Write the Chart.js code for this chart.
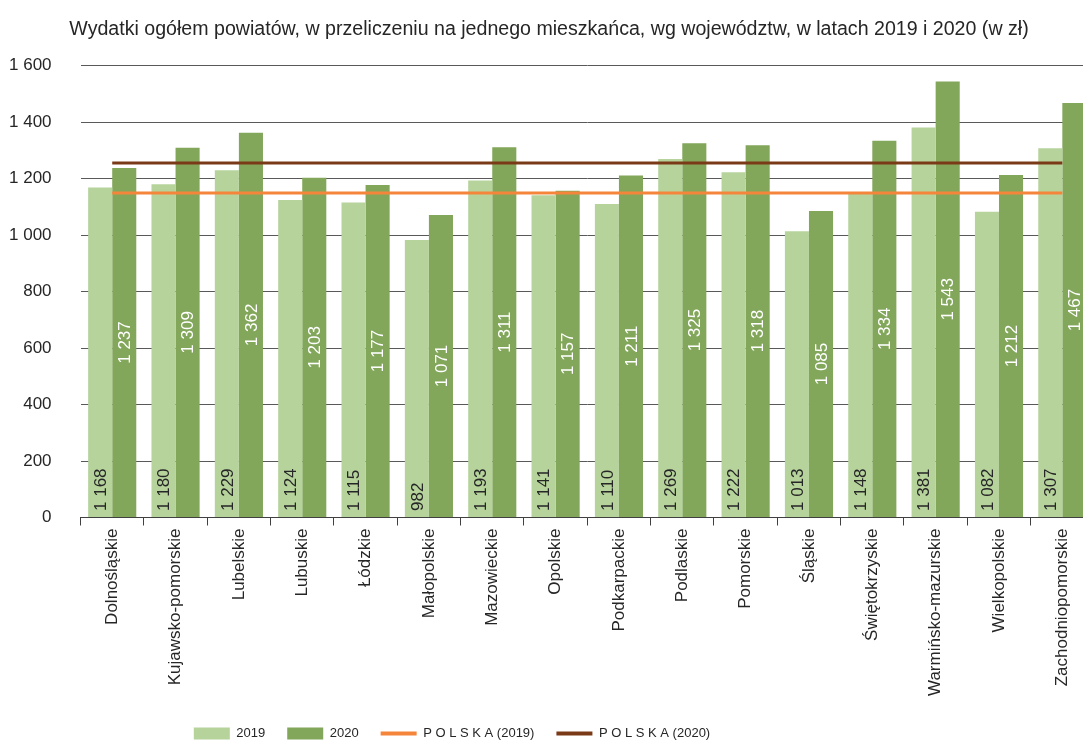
<!DOCTYPE html>
<html>
<head>
<meta charset="utf-8">
<script src="https://cdn.jsdelivr.net/npm/chart.js@4"></script>
<style>
  html, body { margin: 0; padding: 0; background: #fff; overflow: hidden; }
  #wrap { width: 1095px; height: 740px; position: relative; }
</style>
</head>
<body>
<div id="wrap"><canvas id="barChart"></canvas></div>
<script>
var wojewodztwa = ['Dolnośląskie', 'Kujawsko-pomorskie', 'Lubelskie', 'Lubuskie', 'Łódzkie', 'Małopolskie',
    'Mazowieckie', 'Opolskie', 'Podkarpackie', 'Podlaskie', 'Pomorskie', 'Śląskie', 'Świętokrzyskie',
    'Warmińsko-mazurskie', 'Wielkopolskie', 'Zachodniopomorskie'];
var wydatki2019 = [1168, 1180, 1229, 1124, 1115, 982, 1193, 1141, 1110, 1269, 1222, 1013, 1148, 1381, 1082, 1307];
var wydatki2020 = [1237, 1309, 1362, 1203, 1177, 1071, 1311, 1157, 1211, 1325, 1318, 1085, 1334, 1543, 1212, 1467];
var polska2019 = [1149, 1149, 1149, 1149, 1149, 1149, 1149, 1149, 1149, 1149, 1149, 1149, 1149, 1149, 1149, 1149];
var polska2020 = [1255, 1255, 1255, 1255, 1255, 1255, 1255, 1255, 1255, 1255, 1255, 1255, 1255, 1255, 1255, 1255];

var FONT = "'Liberation Sans', Arial, sans-serif";

function fmt(v) {
    return String(v).replace(/\B(?=(\d{3})+(?!\d))/g, ' ');
}

// etykiety wartosci na slupkach
var barLabels = {
    id: 'barLabels',
    afterDatasetsDraw: function (chart) {
        var ctx = chart.ctx;
        [0, 1].forEach(function (di) {
            var meta = chart.getDatasetMeta(di);
            var data = chart.data.datasets[di].data;
            meta.data.forEach(function (bar, i) {
                ctx.save();
                ctx.translate(bar.x, di === 0 ? bar.base - 6 : (bar.y + bar.base) / 2);
                ctx.rotate(-Math.PI / 2);
                ctx.font = '17px ' + FONT;
                ctx.fillStyle = di === 0 ? '#262626' : '#ffffff';
                ctx.textAlign = di === 0 ? 'left' : 'center';
                ctx.textBaseline = 'middle';
                ctx.fillText(fmt(data[i]), 0, 1);
                ctx.restore();
            });
        });
    }
};

// legenda w excelu jest przesunieta w lewo, tytul lekko w prawo
var boxShift = {
    id: 'boxShift',
    afterLayout: function (chart) {
        chart.legend.right -= 170;
        chart.legend.top += 6;
        chart.legend.bottom += 6;
        chart.titleBlock.left += 12;
        chart.titleBlock.right += 12;
    }
};

var ctx = document.getElementById('barChart').getContext('2d');
var myChart = new Chart(ctx, {
    type: 'bar',
    data: {
        labels: wojewodztwa,
        datasets: [{
            label: '2019',
            data: wydatki2019,
            backgroundColor: '#b6d39c',
            order: 1
        }, {
            label: '2020',
            data: wydatki2020,
            backgroundColor: '#82a65a',
            order: 1
        }, {
            type: 'line',
            label: 'P O L S K A (2019)',
            data: polska2019,
            borderColor: '#f5853a',
            backgroundColor: '#f5853a',
            borderWidth: 3,
            pointRadius: 0,
            order: 0
        }, {
            type: 'line',
            label: 'P O L S K A (2020)',
            data: polska2020,
            borderColor: '#7b3a17',
            backgroundColor: '#7b3a17',
            borderWidth: 3,
            pointRadius: 0,
            order: 0
        }]
    },
    options: {
        responsive: true,
        maintainAspectRatio: false,
        animation: false,
        layout: { padding: { left: -20, right: 1, top: 0, bottom: -4 } },
        datasets: {
            bar: { barPercentage: 1, categoryPercentage: 0.76, borderWidth: 0 }
        },
        scales: {
            x: {
                grid: { drawOnChartArea: false, drawTicks: true, tickLength: 8, color: '#404040', offset: true },
                border: { display: true, color: '#404040', width: 1 },
                ticks: { minRotation: 90, maxRotation: 90, autoSkip: false, padding: 3,
                    color: '#262626', font: { family: FONT, size: 17 } }
            },
            y: {
                min: 0,
                max: 1600,
                grid: { color: '#595959', drawTicks: false },
                border: { display: false },
                ticks: { stepSize: 200, padding: 29, color: '#262626', font: { family: FONT, size: 17 },
                    callback: function (v) { return fmt(v); } }
            }
        },
        plugins: {
            tooltip: { enabled: false },
            title: {
                display: true,
                text: 'Wydatki ogółem powiatów, w przeliczeniu na jednego mieszkańca, wg województw, w latach 2019 i 2020 (w zł)',
                color: '#262626',
                font: { family: FONT, size: 19.6, weight: 'normal' },
                padding: { top: 18, bottom: 24 }
            },
            legend: {
                position: 'bottom',
                labels: {
                    usePointStyle: true,
                    pointStyleWidth: 36,
                    boxHeight: 12,
                    padding: 22,
                    color: '#262626',
                    font: { family: FONT, size: 13 },
                    sort: function (a, b) { return a.datasetIndex - b.datasetIndex; },
                    generateLabels: function (chart) {
                        var items = Chart.defaults.plugins.legend.labels.generateLabels(chart);
                        items.forEach(function (it) {
                            var ds = chart.data.datasets[it.datasetIndex];
                            if (ds.type === 'line') {
                                it.pointStyle = 'line';
                                it.lineWidth = 4;
                                it.strokeStyle = ds.borderColor;
                            } else {
                                it.pointStyle = 'rect';
                                it.lineWidth = 0;
                                it.fillStyle = ds.backgroundColor;
                            }
                        });
                        return items;
                    }
                }
            }
        }
    },
    plugins: [barLabels, boxShift]
});
</script>
</body>
</html>
